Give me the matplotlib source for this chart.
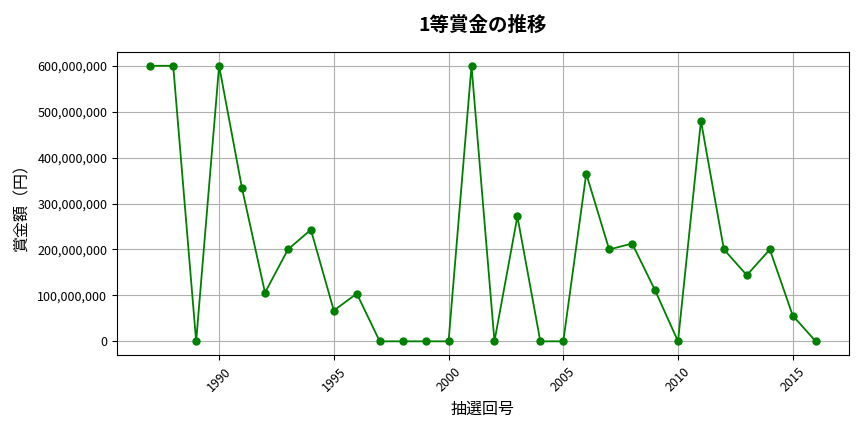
import matplotlib
matplotlib.use('Agg')
import matplotlib.pyplot as plt
from matplotlib.ticker import FuncFormatter

plt.rcParams['font.family'] = ['Noto Sans CJK JP', 'DejaVu Sans']

# 抽選年と1等賞金（円）
years = list(range(1987, 2017))
prizes = [
    600000000, 600000000, 0, 600000000, 333000000,
    106000000, 200000000, 243000000, 67000000, 104000000,
    0, 0, 0, 0, 600000000,
    0, 272000000, 0, 0, 365000000,
    200000000, 213000000, 111000000, 0, 480000000,
    200000000, 144000000, 200000000, 56000000, 0,
]

fig = plt.figure(figsize=(8.64, 4.32), dpi=100)
ax = fig.add_axes([0.1354, 0.178, 0.8472, 0.7016])
ax.plot(years, prizes, color='green', marker='o', markersize=5, linewidth=1.3)
ax.set_title('1等賞金の推移', fontsize=14, fontweight='bold', pad=15)
ax.set_xlabel('抽選回号', fontsize=11.5, labelpad=5)
ax.set_ylabel('賞金額（円）', fontsize=11.5, labelpad=5)
ax.yaxis.set_major_formatter(FuncFormatter(lambda v, p: f'{int(v):,}'))
ax.tick_params(axis='both', labelsize=9)
plt.setp(ax.get_xticklabels(), rotation=45)
ax.grid(True)
fig.savefig('out.png', dpi=100)
